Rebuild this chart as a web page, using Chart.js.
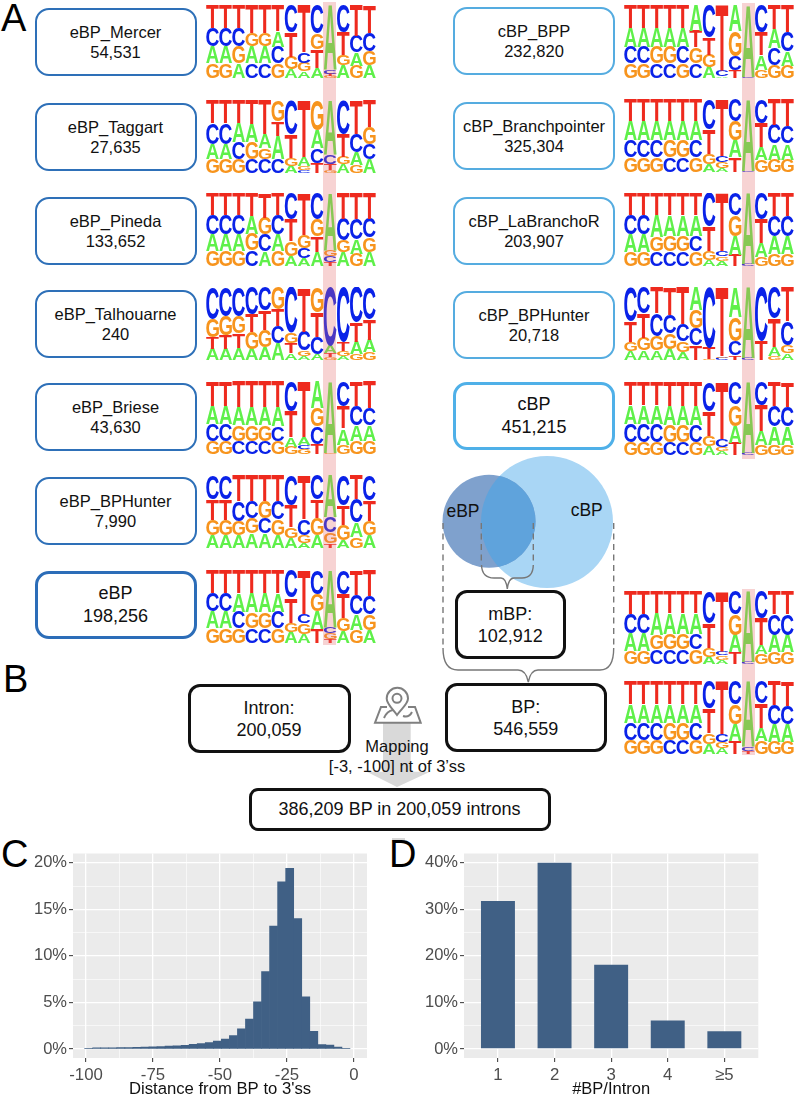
<!DOCTYPE html>
<html><head><meta charset="utf-8">
<script src="https://cdn.jsdelivr.net/npm/chart.js@4"></script>
<style>
html,body{margin:0;padding:0;background:#fff}
#page{position:relative;width:798px;height:1099px;overflow:hidden;font-family:"Liberation Sans",Arial,sans-serif;color:#111}
#page canvas{position:absolute}
.box{position:absolute;box-sizing:border-box;background:#fff;display:flex;flex-direction:column;align-items:center;justify-content:center;text-align:center;white-space:nowrap}
.band{position:absolute;background:rgba(230,110,110,.3);pointer-events:none}
svg{position:absolute;left:0;top:0}
.t{position:absolute;white-space:nowrap;transform:translateX(-50%);font-size:16.5px;line-height:20px}
</style></head><body><div id="page">
<svg width="798" height="1099" id="deco" style="z-index:0">
  <defs><clipPath id="eClip"><circle cx="489" cy="521.3" r="46.5"/></clipPath></defs>
  <circle cx="547" cy="522" r="66" fill="#A9D6F5"/>
  <circle cx="489" cy="521.3" r="46.5" fill="#7FA1CD"/>
  <circle cx="547" cy="522" r="66" fill="#5FA3DC" clip-path="url(#eClip)"/>
  <g fill="none" stroke="#777" stroke-width="1.4">
    <path d="M443 523V648" stroke-dasharray="6 4.5"/>
    <path d="M613.7 523V648" stroke-dasharray="6 4.5"/>
    <path d="M481.3 523V565" stroke-dasharray="6 4.5"/>
    <path d="M533.3 523V565" stroke-dasharray="6 4.5"/>
    <path d="M481.5 565Q482 578 494 578H501Q506 578 507.3 589Q508.6 578 514 578H522Q533 578 533.3 565"/>
    <path d="M443 648Q443 670 458 670H518Q526 670 528.3 682Q530.6 670 538 670H600Q613.7 670 613.7 648"/>
  </g>
  <polygon points="383,722 410.7,722 410.7,771.7 430,771.7 397,787 366.7,771.7 383,771.7" fill="#D9D9D9"/>
  <rect x="392" y="838" width="13" height="4" fill="#D9D9D9"/>
  <g fill="none" stroke="#808080" stroke-width="2">
    <path d="M397 715C392 708 386.7 704 386.7 698.5A10.6 10.6 0 1 1 408 698.5C408 704 402 708 397 715Z" fill="#fff"/>
    <circle cx="397" cy="698.3" r="4.5"/>
    <path d="M387 707H381L375 722.7H420.7L415 707H408"/>
    <path d="M384 718Q387 711 393 710M403 716Q409 718 412 712"/>
  </g>
  <g font-family="Liberation Sans,Arial,sans-serif" font-size="38" fill="#000">
    <text x="1" y="31">A</text><text x="3" y="692">B</text><text x="1" y="867">C</text><text x="389" y="867">D</text>
  </g>
</svg>
<div id="layer"></div>
</div>
<script>
// ---------- Panel C: histogram ----------
const distanceBins = [-99,-96,-93,-90,-87,-84,-81,-78,-75,-72,-69,-66,-63,-60,-57,-54,-51,-48,-45,-42,-39,-36,-33,-30,-27,-24,-21,-18,-15,-12,-9,-6,-3];
const distancePct  = [.08,.11,.12,.13,.14,.16,.18,.2,.23,.26,.3,.34,.4,.5,.57,.68,.85,1.07,1.45,2.15,3.2,5.05,8.3,13.2,17.95,19.4,14.0,5.6,1.9,.47,.43,.2,.05];
const distXMajor = [-100,-75,-50,-25,0];
const distXMinor = [-87.5,-62.5,-37.5,-12.5];
const distYMajor = [0,5,10,15,20];
const distYMinor = [2.5,7.5,12.5,17.5];
// ---------- Panel D: bars ----------
const bpCategories = ["1","2","3","4","\u22655"];
const bpPct = [31.8,40.0,18.1,6.1,3.8];
const bpYMajor = [0,10,20,30,40];
const bpYMinor = [5,15,25,35];
// ---------- Panel A: box labels ----------
const eNames  = ["eBP_Mercer","eBP_Taggart","eBP_Pineda","eBP_Talhouarne","eBP_Briese","eBP_BPHunter","eBP"];
const eCounts = ["54,531","27,635","133,652","240","43,630","7,990","198,256"];
const cNames  = ["cBP_BPP","cBP_Branchpointer","cBP_LaBranchoR","cBP_BPHunter","cBP"];
const cCounts = ["232,820","325,304","203,907","20,718","451,215"];
// ---------- Sequence logos: per column, letter+percent from bottom to top ----------
const logoMercer = ["G20A23C25T32","G20A23C25T32","A20G23C25T32","C20A23G18T39","C20A23G18T39","G20C23A22T35","A12G17T34C37","A9G12C14T65","A14T25G22C39","G3T3C6A88","A17G15T31C37","G17A18C23T42","A17G20C25T38"];
const logoTaggart = ["G19A21C28T32","G19A21C28T32","G19C23A26T32","C19G23A25T33","C19G15A19T47","C19A32T20G29","A10G11T32C47","C4G6A12T78","T14C20A25G41","G4T8C13A75","A12G10T31C47","G11A18C25T46","A19C21G23T37"];
const logoPineda = ["G21A23C26T30","G21A23C26T30","G21A23C26T30","C21G23A25T31","A20C23G23T34","G21A23C26T30","A14G20T30C36","A11C14G18T57","A19T22G23C36","T5C8G9A78","A19G16C30T35","G17A19C28T36","A19G20C26T35"];
const logoTalhouarne = ["A15T16G25C44","A15T19G26C40","A16T20G24C40","A15G23T25C37","A18G23T27C32","A23C24T23G30","A9T14G14C63","A6G7C26T61","A8C24T33G35","G4T5A10C81","A6G7T12C75","G8A17T26C49","G11A17T28C44"];
const logoBriese = ["G18C23A25T34","G18C23A25T34","C18G22A25T35","C18G22A25T35","C18G22A25T35","G18C20A27T35","G10A13T36C41","G7C6A10T77","T14C24G25A37","G2A98","G13A22T30C35","G18A22C26T34","G18A22C23T37"];
const logoEHunter = ["A18G21T28C33","A18G21T28C33","A18G19C27T36","A20G21C23T36","A20C21G23T36","A18G21C25T36","A14G15T30C41","A7G11C22T60","A18G23T25C34","T6G15C21A58","A10G22T26C42","G15A20C32T33","A17G20T28C35"];
const logoEBP = ["G20A23C25T32","G20A23C25T32","G20C23A25T32","C20G22A26T32","C20G22A26T32","G20C23A25T32","A15G13T34C38","A12G15C13T60","T19A24G24C33","T5G9C8A78","A16G18T33C33","G18A21C27T34","A18G22C25T35"];
const logoBPP = ["G20C23A26T31","G20C23A26T31","C20G23A26T31","C20G23A26T31","G20C23A26T31","C20G22T23A35","A15G17T23C45","A2C8T90","T10C20G34A36","C2A98","G11A20T32C37","G17C24A26T33","G17A20C26T37"];
const logoBranch = ["G20C24A26T30","G20C24A26T30","G20C24A26T30","C20G24A26T30","C20G24A26T30","G20C24A26T30","A11G14T34C41","A5G8C9T78","T20A24G26C30","C2A98","G16A18T33C33","G17A22C26T35","G17A22C24T37"];
const logoLaBrancho = ["G19A24C27T30","G19A24C27T30","C20G20A30T30","C20G21A29T30","C20G21A29T30","G20C21A29T30","A8G13T33C46","A7G6C7T80","T15A26G29C30","C3A97","G12A19T33C36","G16A25C28T31","G16A25C28T31"];
const logoCHunter = ["A12G12T29C47","A13G17T34C36","A13G20C31T36","A15G22C25T38","A11G15C23T51","T20C23G25A32","G2T15C83","C3G2T95","T6C20G33A41","C3A97","T26C74","G6A12T39C43","A9G11C33T47"];
const logoCBP = ["G18C25A25T32","G18C25A25T32","G18C25A25T32","C18G23A26T33","C18G23A26T33","G18C23A26T33","A12G14T34C40","A5G6C11T78","T17A23G29C31","C3A97","G14A19T35C32","G14A25C28T33","G14A25C27T34"];
const logoMBP = ["G18A24C26T32","G18A24C26T32","C20G20A30T30","C20G21A29T30","C20G21A29T30","G20C21A29T30","A10G12T34C44","A6G6C6T82","T16A24G28C32","C3A97","G14A12T37C37","G16A24C28T32","G16A24C28T32"];
const logoBP = ["G19C24A25T32","G19C24A25T32","G19C24A25T32","C19G24A25T32","C19G24A25T32","G19C24A25T32","A14G15T33C38","A8G8C11T73","T18A23G27C32","T4C6A90","G18A18T33C31","G17A24C26T33","G17A24C25T34"];

const FONT = '"Liberation Sans",Arial,sans-serif';
const layer = document.getElementById('layer');
const LOGO_COLORS = {A:'#5FF04A',C:'#0A22E8',G:'#F7941D',T:'#EE2A1E'};

const letterPlugin = {
  id:'letters',
  afterDatasetsDraw(chart){
    const ctx = chart.ctx;
    chart.data.datasets.forEach((ds,di)=>{
      chart.getDatasetMeta(di).data.forEach((bar,i)=>{
        const letter = ds.letters[i];
        if(!letter) return;
        const p = bar.getProps(['x','y','base','width'],true);
        const h = p.base-p.y, w = p.width;
        if(h<=0) return;
        ctx.save();
        ctx.font = 'bold 100px '+FONT;
        ctx.textBaseline='alphabetic';
        ctx.fillStyle = LOGO_COLORS[letter];
        const m = ctx.measureText(letter);
        const bw = m.actualBoundingBoxRight+m.actualBoundingBoxLeft;
        const bh = m.actualBoundingBoxAscent+m.actualBoundingBoxDescent;
        ctx.translate(p.x-w/2,p.y);
        ctx.scale(w/bw,h/bh);
        ctx.fillText(letter,m.actualBoundingBoxLeft,m.actualBoundingBoxAscent);
        ctx.restore();
      });
    });
  }
};

function makeCanvas(x,y,w,h,z){
  const c=document.createElement('canvas');
  c.width=w;c.height=h;
  c.style.cssText=`left:${x}px;top:${y}px;width:${w}px;height:${h}px;z-index:${z||1}`;
  layer.appendChild(c);
  return c;
}
function drawLogo(cols,x,y){
  const parsed = cols.map(s=>{
    const parts=[...s.matchAll(/([ACGT])(\d+)/g)].map(m=>[m[1],+m[2]]);
    const sum=parts.reduce((a,b)=>a+b[1],0);
    return parts.map(p=>[p[0],p[1]*100/sum]);
  });
  const datasets=[0,1,2,3].map(r=>({
    data:parsed.map(c=>c[r]?c[r][1]:0),
    letters:parsed.map(c=>c[r]?c[r][0]:null),
    backgroundColor:'rgba(0,0,0,0)',borderWidth:0,
    barPercentage:1,categoryPercentage:.97,inflateAmount:0
  }));
  const cv=makeCanvas(x,y,170,73,1);
  cv.style.filter='blur(.35px)';
  new Chart(cv,{
    type:'bar',
    data:{labels:cols.map((_,i)=>String(i+1)),datasets},
    plugins:[letterPlugin],
    options:{responsive:false,animation:false,events:[],
      layout:{padding:0},
      plugins:{legend:{display:false},tooltip:{enabled:false}},
      scales:{x:{display:false,stacked:true},y:{display:false,stacked:true,min:0,max:100}}}
  });
}
const panelBg={id:'panelBg',beforeDraw(chart){const a=chart.chartArea,c=chart.ctx;c.save();c.fillStyle='#EBEBEB';c.fillRect(a.left,a.top,a.right-a.left,a.bottom-a.top);c.restore();}};

function ggAxis(major,minor,labelFn,extra,fs,pad){
  const all=[...major,...minor];
  return Object.assign({
    type:'linear',offset:false,
    afterBuildTicks(s){s.ticks=all.slice().sort((a,b)=>a-b).map(v=>({value:v}));},
    grid:{offset:false,color:'#fff',drawTicks:true,tickLength:4,
      lineWidth:c=>major.includes(c.tick.value)?1.3:.6,
      tickColor:c=>major.includes(c.tick.value)?'#333':'rgba(0,0,0,0)',tickWidth:1},
    border:{display:false},
    ticks:{autoSkip:false,maxRotation:0,minRotation:0,color:'#4D4D4D',font:{family:FONT,size:fs},padding:pad,
      callback:v=>major.includes(v)?labelFn(v):''}
  },extra);
}
function ggChart(cv,labels,data,barPct,xOpt,yOpt,pad,lw,lh){
  new Chart(cv,{
    type:'bar',
    data:{datasets:[{data:data.map((v,i)=>({x:labels[i],y:v})),backgroundColor:'#406085',borderWidth:0,barPercentage:barPct,categoryPercentage:1}]},
    plugins:[panelBg],
    options:{responsive:false,animation:false,events:[],
      layout:{padding:pad},
      plugins:{legend:{display:false},tooltip:{enabled:false}},
      scales:{
        x:Object.assign(xOpt,{afterFit(s){s.height=lh;}}),
        y:Object.assign(yOpt,{afterFit(s){s.width=lw;}})
      }}
  });
}
// Panel C
ggChart(makeCanvas(20,840,360,259,1),distanceBins,distancePct,1,
  ggAxis(distXMajor,distXMinor,v=>String(v),{min:-104.85,max:4.85,
    title:{display:true,text:"Distance from BP to 3'ss",color:'#111',font:{family:FONT,size:16.7},padding:{top:0,bottom:0}}},16.8,3),
  ggAxis(distYMajor,distYMinor,v=>v+'%',{min:-.97,max:20.99},16.5,2),
  {top:13.5,right:13,bottom:0,left:0},53,41);
// Panel D
ggChart(makeCanvas(410,840,360,259,1),[1,2,3,4,5],bpPct,.6,
  ggAxis([1,2,3,4,5],[],v=>bpCategories[v-1],{min:.4,max:5.6,
    title:{display:true,text:"#BP/Intron",color:'#111',font:{family:FONT,size:16.5},padding:{top:0,bottom:0}}},16.8,3),
  ggAxis(bpYMajor,bpYMinor,v=>v+'%',{min:-1.94,max:41.98},16.5,2),
  {top:13.5,right:11.7,bottom:0,left:0},54,41);

// Logos
const leftLogos=[[logoMercer,4.7],[logoTaggart,100],[logoPineda,193.3],[logoTalhouarne,287.3],[logoBriese,380.7],[logoEHunter,475],[logoEBP,570]];
const rightLogos=[[logoBPP,5],[logoBranch,99.3],[logoLaBrancho,193.3],[logoCHunter,287.3],[logoCBP,381.7],[logoMBP,590.7],[logoBP,680.7]];
leftLogos.forEach(l=>drawLogo(l[0],206,Math.round(l[1])));
rightLogos.forEach(l=>drawLogo(l[0],624,Math.round(l[1])));
function band(x,y,w,h){const d=document.createElement('div');d.className='band';d.style.cssText=`left:${x}px;top:${y}px;width:${w}px;height:${h}px;z-index:3`;layer.appendChild(d);}
band(323.3,2,12.7,643);band(742,3,12.7,456);band(742.3,589.3,12.4,165.7);

// Boxes
function box(x,y,w,h,color,bw,r,fs,lh,lines,pt){
  const d=document.createElement('div');d.className='box';
  d.style.cssText=`left:${x}px;top:${y}px;width:${w}px;height:${h}px;border:${bw}px solid ${color};border-radius:${r}px;font-size:${fs}px;line-height:${lh}px;z-index:2;padding-top:${pt||0}px`;
  lines.forEach(t=>{const s=document.createElement('div');s.textContent=t;d.appendChild(s);});
  layer.appendChild(d);
}
const eTops=[7.5,102.5,197,290,382.5,476.5,571];
eNames.forEach((n,i)=>{const big=i===6;box(34.5,eTops[i],162,68,big?'#2C6DB8':'#2E70B8',big?3.6:2.1,14,big?18:16.5,big?23:20,[n,eCounts[i]]);});
const cTops=[7,102,197,290.5,382];
cNames.forEach((n,i)=>{const big=i===4;box(453,cTops[i],162,68,big?'#4FB0E8':'#55ACE0',big?3.6:2.1,14,big?18:16.5,big?23:20,[n,cCounts[i]]);});
box(455,589.5,110.5,69,'#111',3.6,12,18,22.5,['mBP:','102,912'],2);
box(444.5,682.5,162.5,69.5,'#111',3.6,12,18,22.5,['BP:','546,559'],2);
box(187.5,683.5,163,69.5,'#111',3.6,12,18,22.5,['Intron:','200,059'],2);
box(248.5,787.5,302,43,'#111',3.6,9,18,23,['386,209 BP in 200,059 introns']);

function label(text,x,y,fs){const d=document.createElement('div');d.className='t';d.textContent=text;d.style.cssText=`left:${x}px;top:${y}px;z-index:2;`+(fs?`font-size:${fs}px;`:'');layer.appendChild(d);}
label('eBP',463,501,17.5);label('cBP',586.7,500,17.5);
label('Mapping',397,736);label("[-3, -100] nt of 3\u2019ss",397,756);
</script>
</body></html>
